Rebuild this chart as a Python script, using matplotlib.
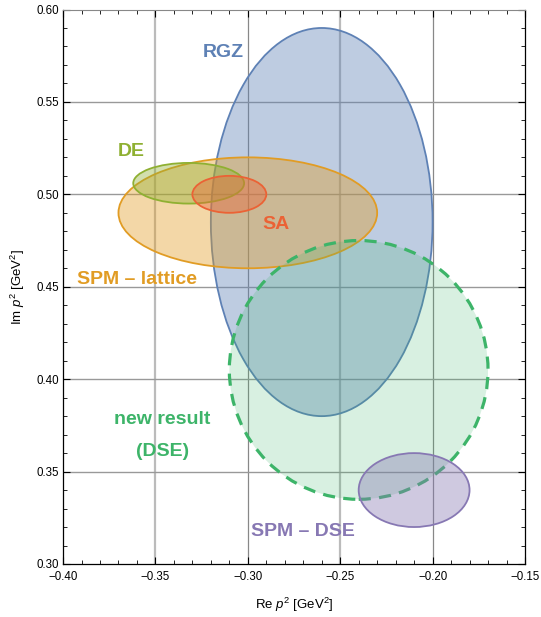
import matplotlib
matplotlib.use("Agg")
import matplotlib.pyplot as plt
from matplotlib.patches import Ellipse
from matplotlib.ticker import MultipleLocator

plt.rcParams['font.family'] = ['Liberation Sans', 'DejaVu Sans']
plt.rcParams['mathtext.fontset'] = 'custom'
plt.rcParams['mathtext.rm'] = 'Liberation Sans'
plt.rcParams['mathtext.it'] = 'Liberation Sans:italic'

# data: name, center (re, im), half-widths (re, im)
names = ["RGZ", "SPM – lattice", "DE", "SA", "new result (DSE)", "SPM – DSE"]
centers_re = [-0.26, -0.30, -0.332, -0.31, -0.24, -0.21]
centers_im = [0.485, 0.490, 0.506, 0.500, 0.405, 0.340]
radii_re = [0.060, 0.070, 0.030, 0.020, 0.070, 0.030]
radii_im = [0.105, 0.030, 0.011, 0.010, 0.070, 0.020]
colors = ["#5E81B5", "#E19C24", "#8FB032", "#EB6235", "#3DB469", "#8778B3"]
alphas = [0.4, 0.4, 0.4, 0.4, 0.2, 0.4]

label_texts = ["RGZ", "SPM – lattice", "DE", "SA", "new result", "(DSE)", "SPM – DSE"]
label_x = [-0.3135, -0.3599, -0.3632, -0.2849, -0.3466, -0.3463, -0.270]
label_y = [0.5765, 0.454, 0.523, 0.4839, 0.3783, 0.3608, 0.3176]
label_colors = ["#5E81B5", "#E19C24", "#8FB032", "#EB6235", "#3DB469", "#3DB469", "#8778B3"]

fig = plt.figure(figsize=(5.41, 6.17), dpi=100)
ax = fig.add_axes([0.1165, 0.0859, 0.8539, 0.8987])

ax.set_xlim(-0.40, -0.15)
ax.set_ylim(0.30, 0.60)

# grid
for gx in [-0.35, -0.25]:
    ax.axvline(gx, color="#bbbbbb", lw=1.6, zorder=0)
for gx in [-0.30, -0.20]:
    ax.axvline(gx, color="#888888", lw=0.9, zorder=0)
for gy in [0.35, 0.40, 0.45, 0.50, 0.55]:
    ax.axhline(gy, color="#999999", lw=1.0, zorder=0)

for i in range(len(names)):
    fill = Ellipse((centers_re[i], centers_im[i]), 2 * radii_re[i], 2 * radii_im[i],
                   facecolor=colors[i], alpha=alphas[i], edgecolor="none", zorder=2 + i)
    ax.add_patch(fill)
    if names[i].startswith("new"):
        edge = Ellipse((centers_re[i], centers_im[i]), 2 * radii_re[i], 2 * radii_im[i],
                       facecolor="none", edgecolor=colors[i], lw=2.3,
                       linestyle=(0, (3.8, 2.6)), zorder=2 + i)
    else:
        edge = Ellipse((centers_re[i], centers_im[i]), 2 * radii_re[i], 2 * radii_im[i],
                       facecolor="none", edgecolor=colors[i], lw=1.3, zorder=2 + i)
    ax.add_patch(edge)

for t, x, y, c in zip(label_texts, label_x, label_y, label_colors):
    ax.text(x, y, t, color=c, fontsize=14, fontweight="bold", ha="center", va="center", zorder=20)

ax.xaxis.set_major_locator(MultipleLocator(0.05))
ax.xaxis.set_minor_locator(MultipleLocator(0.01))
ax.yaxis.set_major_locator(MultipleLocator(0.05))
ax.yaxis.set_minor_locator(MultipleLocator(0.01))
ax.tick_params(which="both", direction="in", top=True, right=True, labelsize=8.3)
ax.tick_params(which="major", length=5, width=0.8)
ax.tick_params(which="minor", length=3, width=0.6)
ax.tick_params(axis="x", which="major", pad=5)
ax.tick_params(axis="y", which="major", pad=3)
ax.set_xticklabels([f"{v:.2f}".replace("-", "−") for v in ax.get_xticks()])
ax.set_yticklabels([f"{v:.2f}" for v in ax.get_yticks()])

ax.spines["top"].set_color("#888888")
for s in ["left", "bottom", "right"]:
    ax.spines[s].set_color("black")
    ax.spines[s].set_linewidth(0.9)

ax.set_xlabel(r"Re $p^2$ [GeV$^2$]", fontsize=9.5)
ax.set_ylabel(r"Im $p^2$ [GeV$^2$]", fontsize=9.5)
ax.xaxis.set_label_coords(0.5, -0.058)
ax.yaxis.set_label_coords(-0.078, 0.5)

fig.savefig("out.png", dpi=100)
